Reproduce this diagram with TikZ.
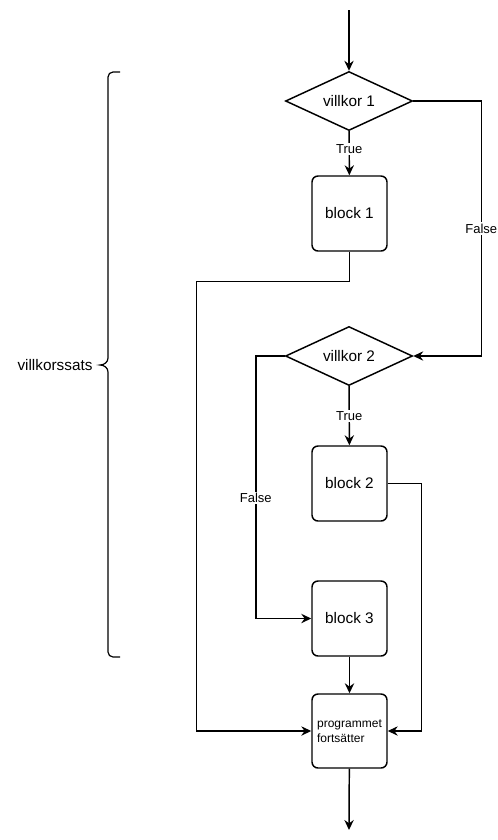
\documentclass[tikz,border=0pt]{standalone}
\usepackage{fontspec}
\setmainfont{Liberation Sans}
\usetikzlibrary{shapes.geometric,arrows.meta}

\tikzset{
	blk/.style={draw, line width=1.1pt, rounded corners=4.5pt, minimum width=56.25pt, minimum height=56.25pt, inner sep=0pt, font=\fontsize{11.5}{13}\selectfont},
	cond/.style={draw, diamond, aspect=2, line width=1.1pt, minimum width=95.25pt, minimum height=44.25pt, inner sep=0pt, font=\fontsize{11.5}{13}\selectfont},
	lbl/.style={fill=white, inner sep=1pt, font=\fontsize{9.75}{11}\selectfont},
	wire/.style={line width=1.1pt},
	flow/.style={wire, -{Stealth[length=7.5pt,width=7pt,inset=2.5pt]}}
}

\begin{document}
\begin{tikzpicture}[x=0.75pt,y=-0.75pt]
							\useasboundingbox (0,0) rectangle (498,840);
							
							\coordinate (start) at (349,10);
							\coordinate (stop) at (349,830);
							
							\node[cond] (v1) at (349,101) {villkor 1};
							\node[blk] (b1) at (349.5,213.5) {block 1};
							\node[cond] (v2) at (349,356) {villkor 2};
							\node[blk] (b2) at (349.5,483.5) {block 2};
							\node[blk] (b3) at (349.5,618.5) {block 3};
							\node[blk, minimum height=55.5pt, align=left, font=\fontsize{9}{11}\selectfont] (prog) at (349.5,731) {programmet\\fortsätter};
							
							\draw[flow] (start) -- (v1);
							\draw[flow] (v1) -- node[lbl, pos=0.4] {True} (b1);
							\draw[flow] (v1.east) -- ++(68,0) |- node[lbl, pos=0.25] {False} (v2.east);
							\draw[flow] (b1.south) -- ++(0,30) -- ++(-153,0) |- (prog.west);
							\draw[flow] (v2) -- node[lbl] {True} (b2);
							\draw[flow] (v2.west) -- ++(-29,0) |- node[lbl, pos=0.27] {False} (b3.west);
							\draw[flow] (b2.east) -- ++(34,0) |- (prog.east);
							\draw[flow] (b3) -- (prog);
							\draw[flow] (prog) -- (stop);
							
							% klammer
							\draw[line width=0.9pt] (120,72) -- (113,72) to[out=180,in=90] (108,77) -- (108,358) to[out=270,in=0] (100,365) to[out=0,in=90] (108,372) -- (108,652) to[out=270,in=180] (113,657) -- (120,657);
							\node[font=\fontsize{11.5}{13}\selectfont] (vs) at (55,365) {villkorssats};
						\end{tikzpicture}
\end{document}
